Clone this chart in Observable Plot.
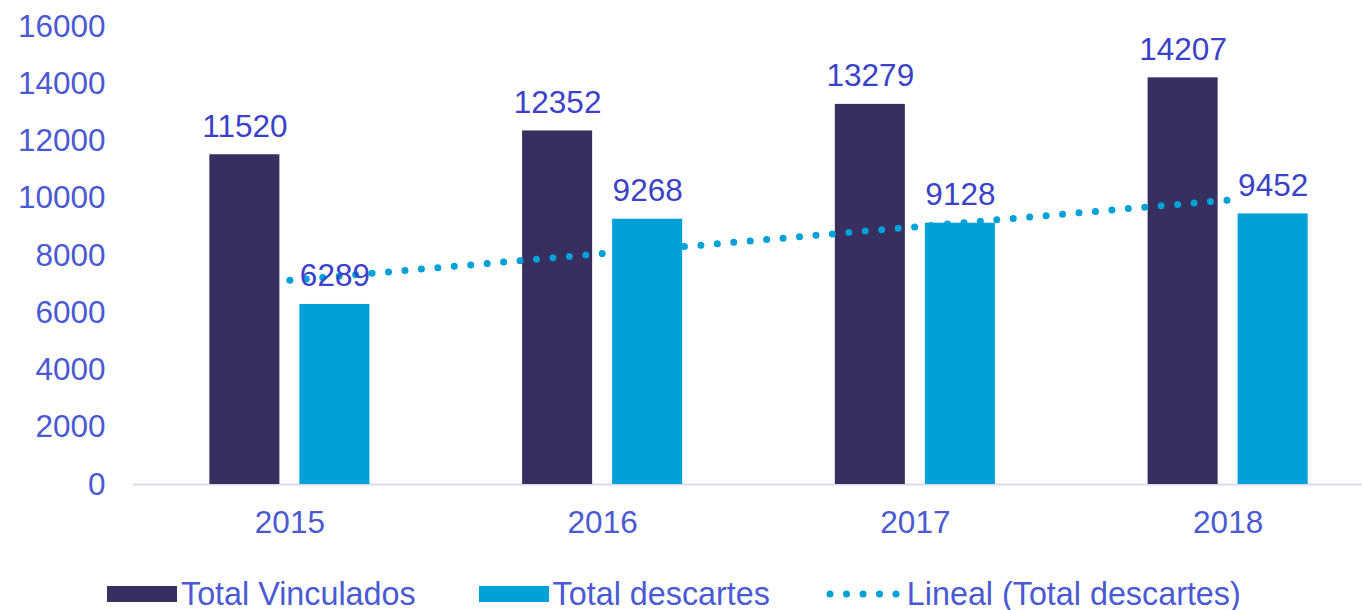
<!DOCTYPE html>
<html><head><meta charset="utf-8">
<script src="https://cdn.jsdelivr.net/npm/d3@7"></script>
<script src="https://cdn.jsdelivr.net/npm/@observablehq/plot@0.6"></script>
<style>
html,body{margin:0;padding:0;background:#fff;overflow:hidden;width:1362px;height:610px}
#chart{position:absolute;left:0;top:0}
.legend{position:absolute;left:107px;top:578px;height:32px;display:flex;align-items:center;font-family:"Liberation Sans",Arial,sans-serif;font-size:32.3px;line-height:32px;color:#4a5ad2;white-space:nowrap}
.item{display:flex;align-items:center}
.sw{width:70px;height:16px;margin-right:4px}
</style>
</head><body>
<div id="chart"></div>
<div class="legend" id="legend"></div>
<script>
const years = ["2015", "2016", "2017", "2018"];
const seriesNames = ["Total Vinculados", "Total descartes"];
const vinculados = [11520, 12352, 13279, 14207];
const descartes = [6289, 9268, 9128, 9452];
const yTicks = [0, 2000, 4000, 6000, 8000, 10000, 12000, 14000, 16000];
const trendName = "Lineal (Total descartes)";

const colors = {"Total Vinculados": "#372f60", "Total descartes": "#00a0d8"};
const axisColor = "#4a5ad2";
const labelColor = "#3a42c8";

// linear trend (least squares over category index)
const xs = descartes.map((_, i) => i + 1);
const mx = d3.mean(xs), my = d3.mean(descartes);
const slope = d3.sum(xs, (x, i) => (x - mx) * (descartes[i] - my)) / d3.sum(xs, x => (x - mx) ** 2);
const trend = years.map((y, i) => ({year: y, value: my + slope * (xs[i] - mx)}));

const dataV = years.map((y, i) => ({year: y, value: vinculados[i]}));
const dataD = years.map((y, i) => ({year: y, value: descartes[i]}));

const W = 1384, ML = 133, MR = 0;
const step = (W - ML - MR) / years.length;
const inner = d3.scaleBand().domain(seriesNames).range([0, step]).paddingInner(0.222).paddingOuter(0.848);
const bw = inner.bandwidth();
const insL = s => inner(s);
const insR = s => step - inner(s) - bw;
const off = s => inner(s) + bw / 2 - step / 2;

const chart = Plot.plot({
  width: W, height: 560,
  marginLeft: ML, marginRight: MR, marginTop: 26, marginBottom: 76,
  style: {fontFamily: '"Liberation Sans", Arial, sans-serif', fontSize: "31.5px", color: axisColor, background: "white", overflow: "visible", maxWidth: "none"},
  x: {domain: years, padding: 0, round: false, axis: null, label: null},
  y: {domain: [0, 16000], axis: null, label: null},
  marks: [
    Plot.axisY({ticks: yTicks, tickSize: 0, tickPadding: 28, tickFormat: d3.format("d"), label: null}),
    Plot.axisX({tickSize: 0, tickPadding: 26, label: null}),
    Plot.ruleY([0], {stroke: "#d9d9f0", strokeWidth: 2}),
    Plot.barY(dataV, {x: "year", y: "value", fill: colors["Total Vinculados"], insetLeft: insL("Total Vinculados"), insetRight: insR("Total Vinculados")}),
    Plot.barY(dataD, {x: "year", y: "value", fill: colors["Total descartes"], insetLeft: insL("Total descartes"), insetRight: insR("Total descartes")}),
    Plot.line(trend, {x: "year", y: "value", stroke: "#00a0d8", strokeWidth: 7, strokeDasharray: "0 16.5", strokeLinecap: "round"}),
    Plot.text(dataV, {x: "year", y: "value", text: d => String(d.value), dx: off("Total Vinculados"), dy: -18, lineAnchor: "bottom", fill: labelColor}),
    Plot.text(dataD, {x: "year", y: "value", text: d => String(d.value), dx: off("Total descartes"), dy: -18, lineAnchor: "bottom", fill: labelColor})
  ]
});
document.getElementById("chart").appendChild(chart);

// legend
const leg = document.getElementById("legend");
seriesNames.forEach((s, i) => {
  const it = document.createElement("div");
  it.className = "item";
  it.style.marginRight = i === 0 ? "63px" : "56px";
  it.innerHTML = `<div class="sw" style="background:${colors[s]}"></div><span>${s}</span>`;
  leg.appendChild(it);
});
const it3 = document.createElement("div");
it3.className = "item";
it3.innerHTML = `<svg width="76" height="16" style="margin-right:5px"><line x1="4" y1="8" x2="72" y2="8" stroke="#00a0d8" stroke-width="7" stroke-linecap="round" stroke-dasharray="0 16.5"/></svg><span>${trendName}</span>`;
leg.appendChild(it3);
</script>
</body></html>
